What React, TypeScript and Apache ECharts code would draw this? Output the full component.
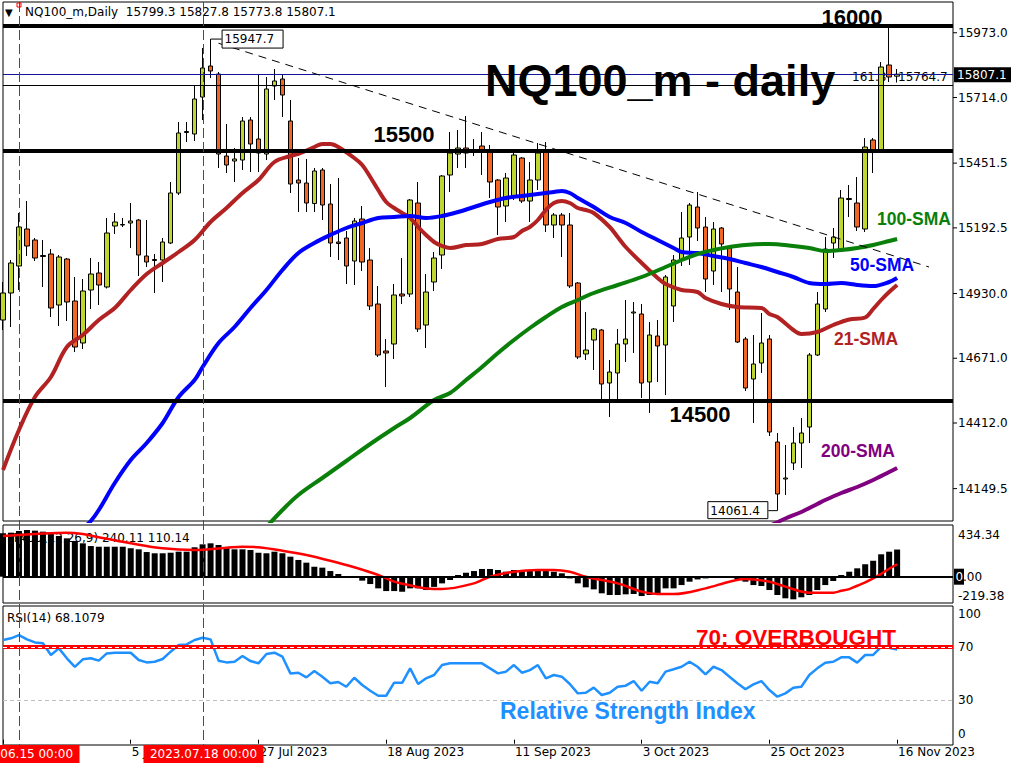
import React, { useEffect, useRef } from "react";
import * as echarts from "echarts";

// ---------- data ----------
const opens = [14824,14932,15040,15188,15144,15082,15088,14884,15068,14900,14732,14944,15012,14956,15200,15204,15212,15224,15080,15066,15064,15132,15332,15574,15568,15716,15840,15808,15480,15460,15464,15624,15548,15488,15760,15788,15620,15384,15372,15290,15424,15288,15136,15152,15060,15228,15064,14888,14700,14728,14928,14928,15292,14804,14976,15084,15404,15488,15512,15504,15520,15500,15384,15280,15320,15472,15300,15384,15496,15204,15244,15204,14972,14688,14744,14784,14572,14612,14728,14852,14848,14576,14760,14724,14880,15064,15156,15276,15196,15020,15192,15112,14936,14748,14588,14652,14748,14336,14188,14252,14332,14396,14684,14868,15132,15104,15306,15292,15188,15544,15504,15844,15799.3];
const closes = [14932,15052,15196,15120,15072,15078,14872,15076,14896,14716,14940,15008,14964,15172,15216,15206,15220,15084,15056,15062,15136,15332,15572,15578,15708,15832,15820,15488,15444,15468,15620,15528,15492,15748,15780,15724,15368,15372,15292,15420,15284,15132,15130,15040,15220,15056,14880,14684,14692,14924,14920,15304,14788,14936,15072,15400,15492,15512,15492,15500,15504,15376,15276,15392,15484,15300,15384,15492,15204,15244,15204,14960,14676,14704,14788,14568,14616,14728,14748,14856,14572,14764,14720,14996,15064,15152,15284,15192,14988,15188,15128,14948,14736,14552,14648,14732,14376,14128,14192,14332,14372,14684,14888,15108,15156,15312,15310,15196,15516,15504,15836,15796,15807.1];
const lows = [14784,14796,14944,15080,15060,14956,14836,14800,14820,14696,14708,14868,14884,14950,15168,15196,15112,15000,15036,14932,14976,15128,15324,15536,15540,15624,15792,15432,15412,15376,15424,15416,15416,15464,15704,15636,15332,15256,15256,15256,15224,15076,15064,14968,14964,15020,14864,14676,14556,14668,14888,14916,14776,14712,14940,15028,15336,15432,15432,15480,15404,15312,15164,15216,15304,15292,15216,15344,15176,15152,15076,14952,14668,14664,14624,14504,14436,14504,14656,14692,14512,14452,14576,14524,14816,15040,15044,15140,14936,14964,14936,14864,14732,14540,14412,14612,14360,14061.4,14124,14224,14232,14332,14680,14856,15072,15096,15236,15180,15176,15412,15496,15776,15773.8];
const highs = [14976,15064,15252,15300,15152,15144,15108,15084,15072,14996,14988,15072,15056,15232,15252,15232,15292,15228,15224,15088,15152,15376,15616,15616,15760,15912,15947.7,15816,15608,15512,15636,15636,15808,15796,15828,15804,15704,15472,15468,15432,15432,15368,15392,15180,15232,15280,15112,14960,14748,14968,15072,15308,15376,15008,15096,15404,15576,15584,15640,15548,15576,15524,15388,15412,15496,15476,15456,15532,15536,15252,15252,15252,14976,14856,14792,14788,14664,14788,14904,14896,14888,14816,14824,15004,15084,15256,15292,15336,15236,15216,15196,15120,15036,14756,14764,14852,14764,14372,14324,14396,14432,14692,14936,15156,15192,15344,15364,15396,15552,15552,15856,15992,15827.8];

const sma21: [number, number][] = [[0,14224],[2,14384],[4,14516],[6,14596],[8,14716],[10,14764],[12,14824],[14,14872],[16,14944],[18,15008],[20,15052],[22,15096],[24,15144],[26,15216],[28,15272],[30,15332],[32,15384],[34,15456],[36,15480],[37,15488],[39,15516],[40,15528],[41,15528],[42,15516],[44,15472],[45,15444],[46,15396],[47,15344],[48,15296],[49,15272],[50,15252],[51,15232],[52,15196],[53,15164],[54,15136],[55,15120],[56,15112],[58,15124],[60,15128],[62,15148],[64,15156],[65,15180],[66,15196],[67,15224],[68,15264],[69,15292],[70,15300],[71,15292],[72,15272],[73,15264],[74,15252],[76,15196],[77,15156],[78,15116],[80,15052],[82,14992],[83,14968],[85,14944],[87,14936],[88,14912],[90,14888],[92,14876],[95,14872],[96,14848],[97,14836],[99,14784],[100,14768],[102,14776],[104,14804],[106,14826],[108,14834],[109,14868],[110,14904],[111,14936],[112,14964]];
const sma50: [number, number][] = [[10,13990],[11,14020],[12,14064],[14,14172],[16,14264],[18,14332],[20,14412],[22,14516],[24,14584],[25,14636],[27,14732],[29,14796],[31,14872],[33,14944],[35,15024],[37,15092],[39,15132],[41,15164],[43,15192],[45,15212],[47,15232],[49,15236],[51,15240],[53,15232],[55,15240],[57,15256],[59,15276],[61,15296],[63,15312],[65,15320],[67,15328],[69,15336],[70,15340],[71,15332],[72,15312],[74,15276],[76,15236],[78,15212],[80,15176],[82,15144],[84,15112],[85,15096],[87,15092],[89,15080],[91,15068],[93,15052],[95,15036],[97,15016],[99,14996],[101,14972],[103,14968],[105,14972],[107,14964],[109,14960],[111,14976],[112,14992]];
const sma100: [number, number][] = [[33,13996],[35,14064],[37,14124],[40,14192],[43,14260],[46,14328],[49,14392],[51,14432],[54,14504],[56,14532],[58,14584],[60,14636],[62,14692],[64,14744],[66,14792],[68,14836],[70,14876],[72,14904],[74,14932],[77,14964],[80,14996],[83,15036],[85,15064],[87,15088],[89,15104],[91,15116],[93,15124],[96,15128],[99,15120],[101,15112],[103,15100],[105,15104],[107,15112],[109,15124],[111,15140],[112,15148]];
const sma200: [number, number][] = [[96,14000],[98,14030],[100,14056],[102,14088],[103,14104],[105,14132],[107,14156],[109,14184],[111,14216],[112,14232]];
const trendLine: [number, number][] = [[27,15931],[116,15036]];

const macd = [384,389,404,413,407,398,384,360,339,316,295,271,265,265,265,265,251,242,218,207,207,212,221,221,260,286,295,280,256,242,242,236,212,207,221,207,177,148,124,88,80,50,24,2,-10,-35,-65,-103,-127,-127,-133,-103,-103,-118,-90,-59,-29,15,35,50,68,68,59,44,59,59,59,59,50,44,30,-15,-59,-94,-112,-147,-162,-162,-156,-153,-171,-162,-147,-103,-103,-74,-44,-24,-15,-6,6,-6,-24,-44,-74,-82,-118,-162,-191,-200,-182,-162,-118,-74,-38,15,44,74,110,141,198,221,240.11];
const macdSignal: [number, number][] = [[0,360],[4,377],[8,389],[10,377],[12,348],[16,295],[20,251],[24,236],[28,256],[30,265],[32,260],[35,230],[38,192],[41,141],[44,83],[47,15],[49,-44],[50,-62],[54,-109],[55,-109],[59,-59],[61,0],[64,44],[67,59],[69,59],[71,44],[73,0],[77,-59],[80,-132],[82,-153],[84,-153],[88,-103],[91,-44],[93,-21],[96,-44],[98,-88],[101,-141],[104,-141],[105,-125],[106,-110],[107,-80],[108,-50],[109,-15],[110,25],[111,70],[112,110.14]];
const rsi = [75.3,76.6,79,75.8,73.5,72.8,64,69,61.5,55,60.7,61.5,59.7,65.2,65.7,65.7,65.7,60.2,58.4,58.9,61,66.5,71.5,72,75.3,77,75.8,59.7,58.4,58.9,63.2,59.4,57.7,64.7,65.7,62.7,50.1,50.6,47.1,51.9,47.6,42.6,43.6,40,46.8,41.3,37,33.2,33.2,43.1,43,53.9,42.1,46.4,48.9,56.4,57.7,57.7,57.7,57.7,57.7,53.9,50.1,51.4,56.4,50.6,52.6,56.4,46.4,48.9,47.6,42.1,35,35.5,39.3,33.8,35.5,40,40.8,44.3,37,43.8,42.6,51.4,53.2,55.1,58.9,55.1,49.4,55.1,52.6,47.6,42.6,38.1,41.8,44.3,37.5,32.5,35,39.3,40,48.9,53.9,58.2,58.9,62.2,62.2,58.2,64,64,70.2,69.5,68.1079];

const levels = [16000, 15500, 14500];
const lastPrice = 15807.1;
const fibLevel = 15764.7;
const mainTicks = [15973.0, 15714.0, 15451.5, 15192.5, 14930.0, 14671.0, 14412.0, 14149.5];
const macdTicks = [434.34, 0, -219.38];
const xTickIdx = [0, 16, 32, 48, 64, 80, 96, 112];
const xTickLabels = ["", "5 Jul 2023", "27 Jul 2023", "18 Aug 2023", "11 Sep 2023", "3 Oct 2023", "25 Oct 2023", "16 Nov 2023"];
const crossIdx = [2, 25];
const crossLabels = ["2023.06.15 00:00", "2023.07.18 00:00"];
const highIdx = 26;
const highVal = 15947.7;
const lowIdx = 97;
const lowVal = 14061.4;

function buildDates(n: number): string[] {
  const out: string[] = [];
  const d = new Date(Date.UTC(2023, 5, 13));
  while (out.length < n) {
    const wd = d.getUTCDay();
    if (wd !== 0 && wd !== 6) out.push(d.toISOString().slice(0, 10));
    d.setUTCDate(d.getUTCDate() + 1);
  }
  return out;
}

const FONT = '"DejaVu Sans"';
const BOLD = '"Liberation Sans", Arial';
const BULL = "#c0d630";
const BEAR = "#f26522";

export default function App() {
  const ref = useRef<HTMLDivElement>(null);
  useEffect(() => {
    document.body.style.margin = "0";
    const el = ref.current!;
    const chart = echarts.init(el, null, { renderer: "svg" });
    const dates = buildDates(opens.length);
    const cats = [...dates];
    for (let k = 0; k < 7; k++) cats.push("pad" + k);
    const labelMap: Record<number, string> = {};
    xTickIdx.forEach((ix, k) => (labelMap[ix] = xTickLabels[k]));

    const gridBase = { left: 3, width: 950, show: true, borderColor: "#000", borderWidth: 1, backgroundColor: "#fff", containLabel: false, outerBoundsMode: "none" };
    const hidden = { axisLine: { show: false }, axisTick: { show: false }, axisLabel: { show: false }, splitLine: { show: false } };
    const candleData = opens.map((o, i) => [o, closes[i], lows[i], highs[i]]);
    const smaLine = (data: [number, number][], color: string, name: string) => ({
      type: "line", name, xAxisIndex: 0, yAxisIndex: 0, data, showSymbol: false, symbol: "none", smooth: 0.35,
      lineStyle: { color, width: 4 }, z: 4, silent: true,
    });

    const option: any = {
      animation: false,
      backgroundColor: "#fff",
      grid: [
        { ...gridBase, top: 2, height: 519 },
        { ...gridBase, top: 525, height: 78 },
        { ...gridBase, top: 606, height: 139 },
      ],
      xAxis: [0, 1, 2].map((g) => ({
        type: "category", gridIndex: g, data: cats, boundaryGap: false, ...hidden,
        ...(g === 2
          ? {
              axisTick: { show: true, interval: (i: number) => xTickIdx.includes(i), length: 4, lineStyle: { color: "#000" } },
              axisLabel: {
                show: true, interval: (i: number) => xTickIdx.includes(i) && !!labelMap[i], formatter: (_v: string, i: number) => labelMap[i] || "",
                align: "left", margin: 1, fontSize: 12, fontFamily: "DejaVu Sans", color: "#000", padding: [0, 0, 0, 1],
              },
            }
          : {}),
      })),
      yAxis: [
        { type: "value", gridIndex: 0, min: 14020, max: 16096, ...hidden },
        { type: "value", gridIndex: 1, min: -232.5, max: 457, ...hidden },
        { type: "value", gridIndex: 2, min: -4, max: 101, ...hidden },
      ],
      series: [
        {
          type: "candlestick", xAxisIndex: 0, yAxisIndex: 0, data: candleData, barWidth: 5, z: 3, silent: true,
          itemStyle: { color: BULL, color0: BEAR, borderColor: "#000", borderColor0: "#000", borderWidth: 1 },
          markLine: {
            silent: true, symbol: ["none", "none"], label: { show: false }, emphasis: { disabled: true },
            data: [
              ...levels.map((v) => ({ yAxis: v, lineStyle: { color: "#000", width: 4, type: "solid" } })),
              { yAxis: lastPrice, lineStyle: { color: "#14149a", width: 1, type: "solid" } },
              { yAxis: fibLevel, lineStyle: { color: "#000", width: 1, type: "solid" } },
            ],
          },
        },
        smaLine(sma21, "#b22222", "21-SMA"),
        smaLine(sma50, "#0000ff", "50-SMA"),
        smaLine(sma100, "#0a800a", "100-SMA"),
        smaLine(sma200, "#800080", "200-SMA"),
        {
          type: "line", xAxisIndex: 0, yAxisIndex: 0, data: trendLine, showSymbol: false, symbol: "none",
          lineStyle: { color: "#000", width: 1, type: [8, 6] }, z: 5, silent: true,
        },
        {
          type: "bar", xAxisIndex: 1, yAxisIndex: 1, data: macd, barWidth: 6, itemStyle: { color: "#000" }, z: 2, silent: true,
          markLine: {
            silent: true, symbol: ["none", "none"], label: { show: false }, emphasis: { disabled: true },
            data: [{ yAxis: 0, lineStyle: { color: "#000", width: 2, type: "solid" } }],
          },
        },
        {
          type: "line", xAxisIndex: 1, yAxisIndex: 1, data: macdSignal, showSymbol: false, symbol: "none", smooth: 0.35,
          lineStyle: { color: "#ff0000", width: 2.5 }, z: 4, silent: true,
        },
        {
          type: "line", xAxisIndex: 2, yAxisIndex: 2, data: rsi, showSymbol: false, symbol: "none",
          lineStyle: { color: "#1e90ff", width: 2.5 }, z: 4, silent: true,
          markLine: {
            silent: true, symbol: ["none", "none"], label: { show: false }, emphasis: { disabled: true },
            data: [
              { yAxis: 70, lineStyle: { color: "#ff0000", width: 4, type: "solid" } },
              { yAxis: 70, lineStyle: { color: "#ffffff", width: 1, type: [4, 3] } },
              { yAxis: 30, lineStyle: { color: "#c0c0c0", width: 1, type: [4, 3] } },
            ],
          },
        },
      ],
    };
    chart.setOption(option);

    const P = (g: number, i: number, v: number) => chart.convertToPixel({ gridIndex: g } as any, [i, v]) as number[];
    const Y = (g: number, v: number) => chart.convertToPixel({ yAxisIndex: g } as any, v) as number;
    const X = (i: number) => chart.convertToPixel({ xAxisIndex: 0 } as any, i) as number;
    const right = 953;
    const txt = (x: number, y: number, text: string, font: string, fill: string, align = "left", valign = "middle", z = 10) => ({
      type: "text", z, silent: true,
      style: { x, y, text, font, fill, align, verticalAlign: valign, textAlign: align, textVerticalAlign: valign },
    });
    const line = (x1: number, y1: number, x2: number, y2: number, stroke: string, lineWidth = 1, dash?: number[], z = 10) => ({
      type: "line", z, silent: true, shape: { x1, y1, x2, y2 },
      style: { stroke, lineWidth, lineDash: dash },
    });
    const rect = (x: number, y: number, w: number, h: number, fill: string, stroke?: string, z = 10) => ({
      type: "rect", z, silent: true, shape: { x, y, width: w, height: h }, style: { fill, stroke, lineWidth: 1 },
    });
    const els: any[] = [];
    const f12 = `12px ${FONT}`;

    // header
    els.push(txt(5, 12, "▼", `10px ${FONT}`, "#000"));
    els.push(txt(25, 12, "NQ100_m,Daily  15799.3 15827.8 15773.8 15807.1", f12, "#000"));
    // MACD / RSI headers
    els.push(txt(7, 538, "MACD(12,26,9) 240.11 110.14", f12, "#000", "left", "middle", 1));
    els.push(txt(7, 618, "RSI(14) 68.1079", f12, "#000"));

    // right axis labels main
    mainTicks.forEach((v) => {
      const y = Y(0, v);
      els.push(line(right, y, right + 4, y, "#000"));
      els.push(txt(958, y, v.toFixed(1), f12, "#000"));
    });
    // last price box
    const yp = Y(0, lastPrice);
    els.push(rect(954, yp - 7, 57, 15, "#000", undefined, 50));
    els.push(txt(957, yp + 0.5, lastPrice.toFixed(1), f12, "#fff", "left", "middle", 51));

    // MACD labels
    els.push(txt(958, Y(1, macdTicks[0]) + 1, macdTicks[0].toFixed(2), f12, "#000", "left", "top"));
    const y0 = Y(1, 0);
    els.push(rect(954, y0 - 8, 10, 16, "#000", undefined, 50));
    els.push(txt(955.5, y0, "0", f12, "#fff", "left", "middle", 51));
    els.push(txt(963, y0, ".00", f12, "#000", "left", "middle", 51));
    els.push(txt(958, Y(1, macdTicks[2]), macdTicks[2].toFixed(2), f12, "#000", "left", "bottom"));
    // RSI labels
    els.push(txt(958, Y(2, 100) + 1, "100", f12, "#000", "left", "top"));
    els.push(txt(958, Y(2, 70), "70", f12, "#000"));
    els.push(txt(958, Y(2, 30), "30", f12, "#000"));
    els.push(txt(958, Y(2, 0), "0", f12, "#000", "left", "bottom"));

    // crosshair lines + labels
    crossIdx.forEach((ix, k) => {
      const x = Math.round(X(ix)) + 0.5;
      els.push(line(x, 2, x, 745, "#ff0000", 1, [10, 4], 20));
      els.push(rect(x - 60, 745, 120, 18, "#ff0000", undefined, 100));
      els.push(txt(x, 754, crossLabels[k], f12, "#fff", "center", "middle", 101));
    });
    els.push({ type: "rect", z: 21, silent: true, shape: { x: 17, y: 3, width: 4, height: 4 }, style: { fill: "none", stroke: "#ff0000", lineWidth: 1 } });

    // title & level labels
    els.push(txt(485, 80, "NQ100_m - daily", `bold 45px ${BOLD}`, "#000", "left", "middle", 30));
    els.push(txt(852, Y(0, 16000) - 9, "16000", `bold 22px ${BOLD}`, "#000", "center", "middle", 30));
    els.push(txt(404, Y(0, 15500) - 17, "15500", `bold 22px ${BOLD}`, "#000", "center", "middle", 30));
    els.push(txt(700, Y(0, 14500) + 13, "14500", `bold 22px ${BOLD}`, "#000", "center", "middle", 30));

    // SMA labels
    els.push(txt(877, 219, "100-SMA", `bold 17.5px ${BOLD}`, "#0a800a", "left", "middle", 30));
    els.push(txt(850, 265, "50-SMA", `bold 17.5px ${BOLD}`, "#0000ff", "left", "middle", 30));
    els.push(txt(834, 339, "21-SMA", `bold 17.5px ${BOLD}`, "#b22222", "left", "middle", 30));
    els.push(txt(821, 451, "200-SMA", `bold 17.5px ${BOLD}`, "#800080", "left", "middle", 30));

    // RSI annotations
    els.push(txt(696, 637, "70: OVERBOUGHT", `bold 22.5px ${BOLD}`, "#ff0000", "left", "middle", 30));
    els.push(txt(500, 711, "Relative Strength Index", `bold 23px ${BOLD}`, "#1e90ff", "left", "middle", 30));

    // fib labels
    const yf = Y(0, fibLevel);
    els.push(txt(852, yf - 8, "161.8", f12, "#000", "left", "middle", 1));
    els.push(txt(898, yf - 8, fibLevel.toFixed(1), f12, "#000", "left", "middle", 1));

    // high / low boxes
    const ph = P(0, highIdx, highVal);
    els.push(line(ph[0], ph[1], ph[0] + 11, ph[1], "#000", 1, undefined, 40));
    els.push(rect(ph[0] + 11.5, ph[1] - 9, 61, 18, "#fff", "#000", 40));
    els.push(txt(ph[0] + 14, ph[1], highVal.toFixed(1), f12, "#000", "left", "middle", 41));
    const pl = P(0, lowIdx, lowVal);
    els.push(line(pl[0] - 9, pl[1], pl[0], pl[1], "#000", 1, undefined, 40));
    els.push(rect(pl[0] - 69.5, pl[1] - 9, 60, 17, "#fff", "#000", 40));
    els.push(txt(pl[0] - 67, pl[1], lowVal.toFixed(1), f12, "#000", "left", "middle", 41));

    chart.setOption({ graphic: { elements: els } });
    return () => chart.dispose();
  }, []);
  return <div ref={ref} style={{ position: "absolute", left: 0, top: 0, width: 1024, height: 768, background: "#fff" }} />;
}
